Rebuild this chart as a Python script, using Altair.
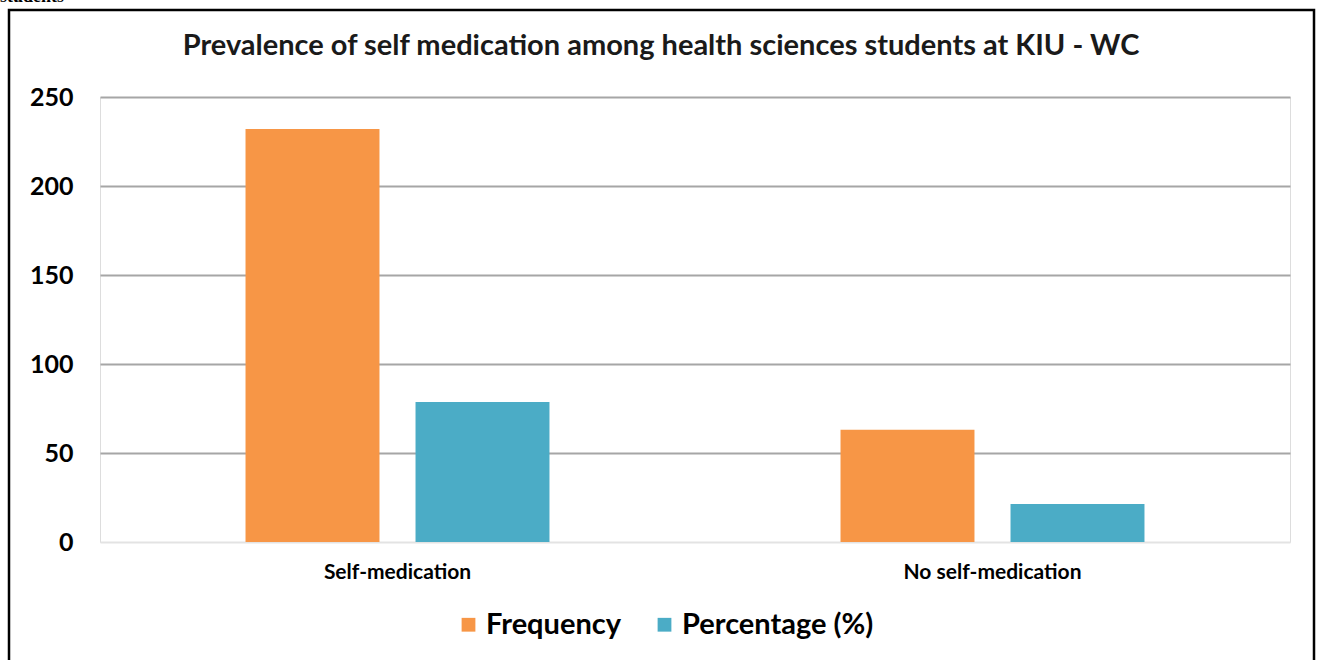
import altair as alt
import pandas as pd

categories = ["Self-medication", "No self-medication"]
series = ["Frequency", "Percentage (%)"]
frequency = [232, 63]
percentage = [78.6, 21.4]
y_ticks = [0, 50, 100, 150, 200, 250]
title_text = "Prevalence of self medication among health sciences students at KIU - WC"

rows = []
for c, f, p in zip(categories, frequency, percentage):
    rows.append({"Category": c, "Series": series[0], "Value": f})
    rows.append({"Category": c, "Series": series[1], "Value": p})
df = pd.DataFrame(rows)
one = pd.DataFrame({"k": [0]})

FONT = "Lato"

bars = alt.Chart(df).mark_bar().encode(
    x=alt.X("Category:N", sort=categories,
            scale=alt.Scale(paddingInner=0, paddingOuter=0),
            axis=alt.Axis(title=None, labelAngle=0, domain=False, ticks=False,
                          labelFont=FONT, labelFontSize=21, labelFontWeight="bold",
                          labelColor="#000000", labelPadding=19)),
    xOffset=alt.XOffset("Series:N", sort=series,
                        scale=alt.Scale(paddingInner=0.212, paddingOuter=0.856)),
    y=alt.Y("Value:Q", scale=alt.Scale(domain=[0, 250], nice=False),
            axis=alt.Axis(title=None, values=y_ticks, domain=False, ticks=False,
                          labelFont=FONT, labelFontSize=25, labelFontWeight="bold",
                          labelColor="#000000", labelPadding=27,
                          gridWidth=2,
                          gridColor=alt.condition("datum.value === 0",
                                                  alt.value("#E3E3E3"),
                                                  alt.value("#A6A6A6")))),
    color=alt.Color("Series:N", sort=series,
                    scale=alt.Scale(domain=series, range=["#F79646", "#4BACC6"]),
                    legend=alt.Legend(title=None, orient="none", direction="horizontal",
                                      legendX=354, legendY=513,
                                      symbolType="square", symbolSize=190,
                                      symbolStrokeWidth=0,
                                      labelFont=FONT, labelFontSize=29,
                                      labelFontWeight="bold", labelColor="#000000",
                                      labelLimit=400,
                                      columnPadding=28, labelOffset=3)),
)

title = alt.Chart(one).mark_text(
    text=title_text, font=FONT, fontSize=29, fontWeight="bold",
    color="#1a1a1a", align="center", baseline="middle"
).encode(x=alt.value(561), y=alt.value(-51))

cut = alt.Chart(one).mark_text(
    text="students", font="Liberation Serif", fontSize=18, fontWeight="bold",
    color="#000000", align="left", baseline="alphabetic"
).encode(x=alt.value(-100), y=alt.value(-95))

border = alt.Chart(one).mark_rect(
    fillOpacity=0, stroke="#000000", strokeWidth=2.5
).encode(x=alt.value(-91), x2=alt.value(1214), y=alt.value(-87), y2=alt.value(575))

chart = alt.layer(bars, title, cut, border).properties(
    width=1190, height=445,
    autosize=alt.AutoSizeParams(type="none"),
    padding={"left": 100, "top": 97, "right": 28, "bottom": 118},
).configure_view(stroke=None).configure(background="white")

chart.save("out.html", embed_options={"renderer": "svg", "actions": False})
